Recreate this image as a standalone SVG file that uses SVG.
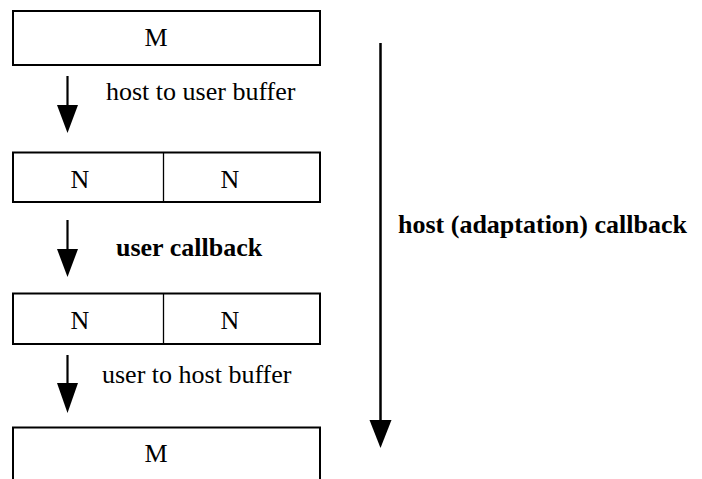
<svg xmlns="http://www.w3.org/2000/svg" width="702" height="479" viewBox="0 0 702 479">
<style>
.box{fill:#fff;stroke:#000;stroke-width:2}
.div{stroke:#000;stroke-width:1.3}
.t{font-family:"Liberation Serif","Times New Roman",serif;font-size:26px;fill:#000}
.b{font-weight:bold}
.ln{stroke:#000;stroke-width:2.2;fill:none}
.hd{fill:#000;stroke:none}
</style>
<rect width="702" height="479" fill="#fff"/>
<g id="connectors">
<line class="ln" x1="67.5" y1="76" x2="67.5" y2="106"/>
<polygon class="hd" points="57,105 78,105 67.5,133"/>
<line class="ln" x1="67.5" y1="220" x2="67.5" y2="250"/>
<polygon class="hd" points="57,249 78,249 67.5,277"/>
<line class="ln" x1="67.5" y1="355" x2="67.5" y2="384"/>
<polygon class="hd" points="57,383 78,383 67.5,413"/>
<line class="ln" x1="380.5" y1="43" x2="380.5" y2="421" style="stroke-width:2.5"/>
<polygon class="hd" points="369.5,420 391.5,420 380.5,448"/>
<text class="t" x="106" y="100">host to user buffer</text>
<text class="t b" x="116" y="256">user callback</text>
<text class="t" x="102" y="383">user to host buffer</text>
<text class="t b" x="398" y="233">host (adaptation) callback</text>
</g>
<g id="node-m-top">
<rect class="box" x="13" y="11" width="307" height="54"/>
<text class="t" x="156" y="45.5" text-anchor="middle">M</text>
</g>
<g id="node-n-row1">
<rect class="box" x="13" y="152.5" width="307" height="49.5"/>
<line class="div" x1="163.5" y1="152.5" x2="163.5" y2="202"/>
<text class="t" x="80" y="188" text-anchor="middle">N</text>
<text class="t" x="230" y="188" text-anchor="middle">N</text>
</g>
<g id="node-n-row2">
<rect class="box" x="13" y="293.5" width="307" height="50.5"/>
<line class="div" x1="163.5" y1="293.5" x2="163.5" y2="344"/>
<text class="t" x="80" y="329" text-anchor="middle">N</text>
<text class="t" x="230" y="329" text-anchor="middle">N</text>
</g>
<g id="node-m-bottom">
<path class="box" d="M13,480 V427.5 H320 V480"/>
<text class="t" x="156" y="462" text-anchor="middle">M</text>
</g>
</svg>
